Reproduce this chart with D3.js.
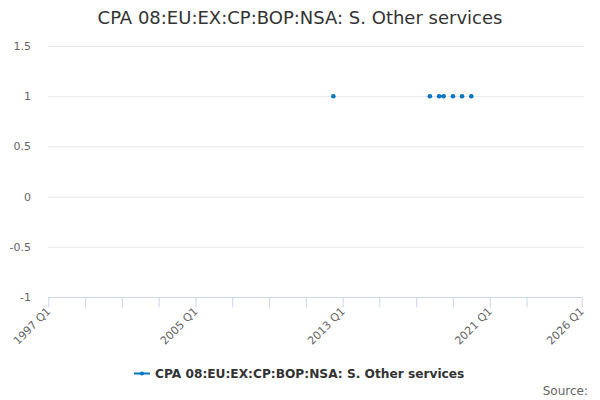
<!DOCTYPE html>
<html>
<head>
<meta charset="utf-8">
<script src="https://cdn.jsdelivr.net/npm/d3@7/dist/d3.min.js"></script>
<style>
  body { margin: 0; background: #fff; }
  svg { display: block; font-family: "DejaVu Sans", sans-serif; }
</style>
</head>
<body>
<svg id="chart" width="600" height="400"></svg>
<script>
const title = "CPA 08:EU:EX:CP:BOP:NSA: S. Other services";
const seriesName = "CPA 08:EU:EX:CP:BOP:NSA: S. Other services";
const periods = ["2012 Q3", "2017 Q4", "2018 Q2", "2018 Q3", "2019 Q1", "2019 Q3", "2020 Q1"];
const values = [1, 1, 1, 1, 1, 1, 1];
const yTicks = [-1, -0.5, 0, 0.5, 1, 1.5];
const xLabelPeriods = ["1997 Q1", "2005 Q1", "2013 Q1", "2021 Q1", "2026 Q1"];
const xTickPeriods = ["1997 Q1", "1999 Q1", "2001 Q1", "2003 Q1", "2005 Q1", "2007 Q1", "2009 Q1",
  "2011 Q1", "2013 Q1", "2015 Q1", "2017 Q1", "2019 Q1", "2021 Q1", "2023 Q1", "2026 Q1"];
const xDomain = ["1997 Q1", "2026 Q1"];

function parseQ(s) {
  const [y, q] = s.split(" Q");
  return new Date(Date.UTC(+y, (+q - 1) * 3, 1));
}
const qIndex = s => { const [y, q] = s.split(" Q"); return +y * 4 + (+q - 1); };

const svg = d3.select("#chart");
const color = "#0076c2";

const x = d3.scaleUtc().domain(xDomain.map(parseQ)).range([48.3, 581.7]);
const y = d3.scaleLinear().domain([-1, 1.5]).range([297, 46]);

svg.append("text").attr("x", 300).attr("y", 24).attr("text-anchor", "middle")
  .attr("font-size", 18).attr("fill", "#333").text(title);

// grid
svg.append("g").selectAll("line").data(yTicks.filter(d => d !== -1)).join("line")
  .attr("x1", 48).attr("x2", 584).attr("y1", d => y(d) + 0.5).attr("y2", d => y(d) + 0.5)
  .attr("stroke", "#e6e6e6").attr("stroke-width", 1);

// y labels
svg.append("g").selectAll("text").data(yTicks).join("text")
  .attr("x", 31).attr("y", d => y(d) + 4).attr("text-anchor", "end")
  .attr("font-size", 11).attr("fill", "#666").text(d => d);

// x axis
const xAxis = d3.axisBottom(x).tickValues(xTickPeriods.map(parseQ)).tickSize(10).tickFormat("");
const gx = svg.append("g").attr("transform", "translate(0,297.5)").call(xAxis);
gx.select(".domain").attr("stroke", "#ccd6eb").attr("d", "M48,0H582");
gx.selectAll(".tick line").attr("stroke", "#ccd6eb");

svg.append("g").selectAll("text").data(xLabelPeriods).join("text")
  .attr("transform", d => `translate(${x(parseQ(d)) + 3},${312}) rotate(-45)`)
  .attr("text-anchor", "end").attr("font-size", 11).attr("fill", "#666").text(d => d);

// series
const pts = periods.map((p, i) => ({ p, d: parseQ(p), v: values[i], k: qIndex(p) }));
const segs = [];
for (let i = 1; i < pts.length; i++) if (pts[i].k - pts[i - 1].k === 1) segs.push([pts[i - 1], pts[i]]);
const line = d3.line().x(d => x(d.d)).y(d => y(d.v));
svg.append("g").selectAll("path").data(segs).join("path")
  .attr("d", line).attr("fill", "none").attr("stroke", color).attr("stroke-width", 2);
svg.append("g").selectAll("circle").data(pts).join("circle")
  .attr("cx", d => x(d.d)).attr("cy", d => y(d.v)).attr("r", 2.3).attr("fill", color);

// legend
svg.append("line").attr("x1", 134).attr("x2", 150).attr("y1", 373.5).attr("y2", 373.5)
  .attr("stroke", color).attr("stroke-width", 2);
svg.append("circle").attr("cx", 142).attr("cy", 373.5).attr("r", 2).attr("fill", color);
svg.append("text").attr("x", 155).attr("y", 378).attr("font-size", 12.2).attr("font-weight", "bold")
  .attr("fill", "#333").text(seriesName);

svg.append("text").attr("x", 588).attr("y", 395).attr("text-anchor", "end")
  .attr("font-size", 12).attr("fill", "#666").text("Source:");
</script>
</body>
</html>
